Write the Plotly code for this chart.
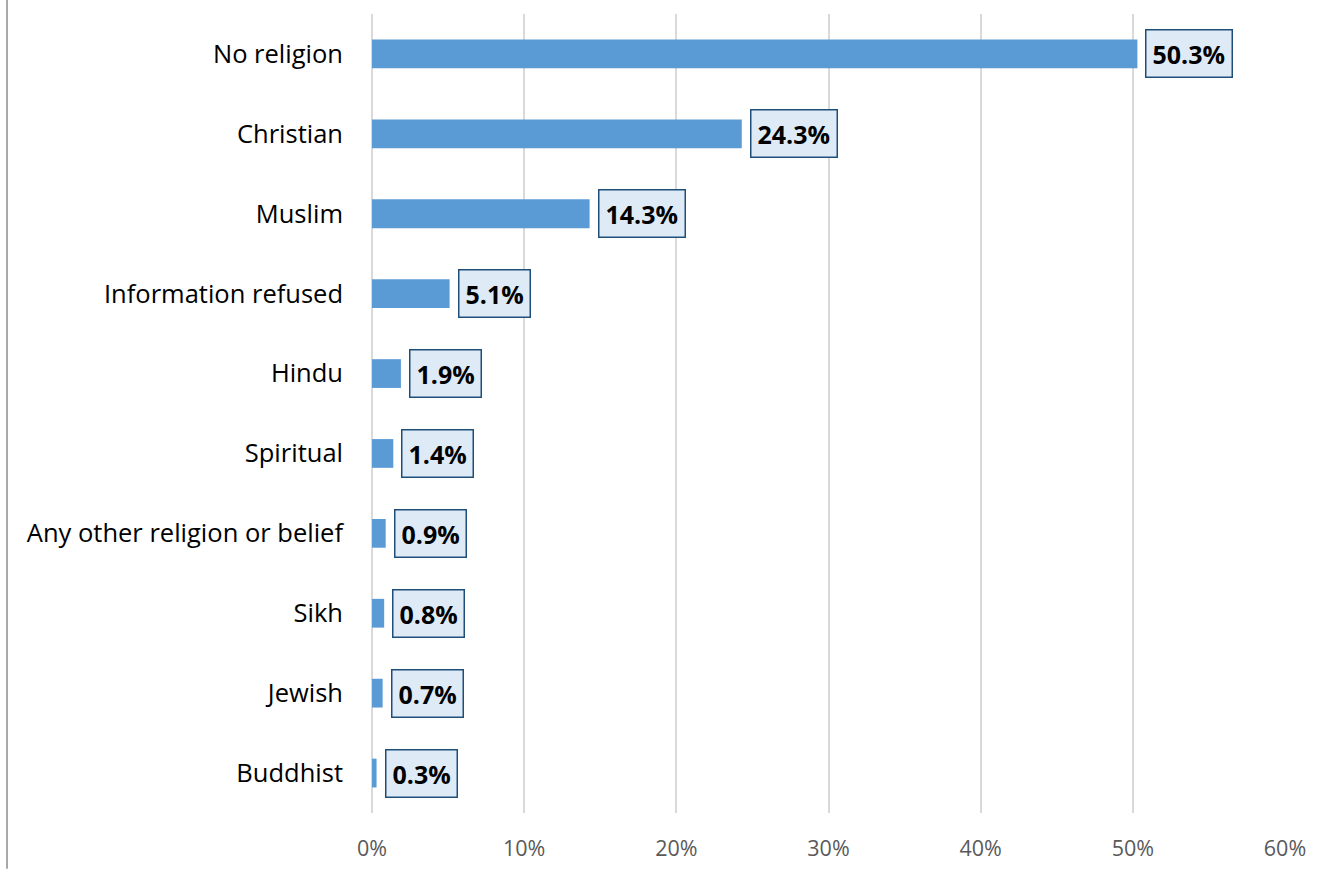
import plotly.graph_objects as go

categories = ["No religion", "Christian", "Muslim", "Information refused", "Hindu",
              "Spiritual", "Any other religion or belief", "Sikh", "Jewish", "Buddhist"]
values = [50.3, 24.3, 14.3, 5.1, 1.9, 1.4, 0.9, 0.8, 0.7, 0.3]
tick_vals = [0, 10, 20, 30, 40, 50, 60]
tick_text = ["0%", "10%", "20%", "30%", "40%", "50%", "60%"]

font_family = "Open Sans, Noto Sans, DejaVu Sans, sans-serif"

fig = go.Figure()
fig.add_trace(go.Bar(
    y=categories, x=values, orientation="h",
    marker=dict(color="#5b9bd5", line=dict(width=0)),
    width=0.36, hoverinfo="skip",
))

for c, v in zip(categories, values):
    fig.add_annotation(
        x=v, y=c, xref="x", yref="y", text=f"<b>{v:.1f}%</b>",
        showarrow=False, xanchor="left", xshift=8,
        font=dict(family=font_family, size=25, color="#000000"),
        bgcolor="#deebf7", bordercolor="#1f4e79", borderwidth=1.5, borderpad=6,
    )

W, H = 1323, 874
L, R, T, B = 372, 38, 14, 56
pw = W - L - R
fig.add_shape(type="line", xref="paper", yref="paper",
              x0=(7 - L) / pw, x1=(7 - L) / pw, y0=-B / (H - T - B), y1=1 + T / (H - T - B),
              line=dict(color="#8c8c8c", width=1.5))

fig.update_layout(
    width=W, height=H,
    margin=dict(l=L, r=R, t=T, b=B),
    plot_bgcolor="white", paper_bgcolor="white",
    showlegend=False,
    xaxis=dict(range=[0, 60], tickvals=tick_vals, ticktext=tick_text,
               showgrid=True, gridcolor="#d9d9d9", gridwidth=2,
               zeroline=True, zerolinecolor="#d9d9d9", zerolinewidth=2,
               showline=False, ticks="", ticklabelstandoff=20,
               tickfont=dict(family=font_family, size=21.5, color="#595959")),
    yaxis=dict(autorange="reversed", showgrid=False, zeroline=False, showline=False,
               ticks="", ticklabelstandoff=28,
               tickfont=dict(family=font_family, size=25.5, color="#000000")),
)

fig.write_html("out.html", config={"displayModeBar": False},
               post_script="document.body.style.margin='0';")
